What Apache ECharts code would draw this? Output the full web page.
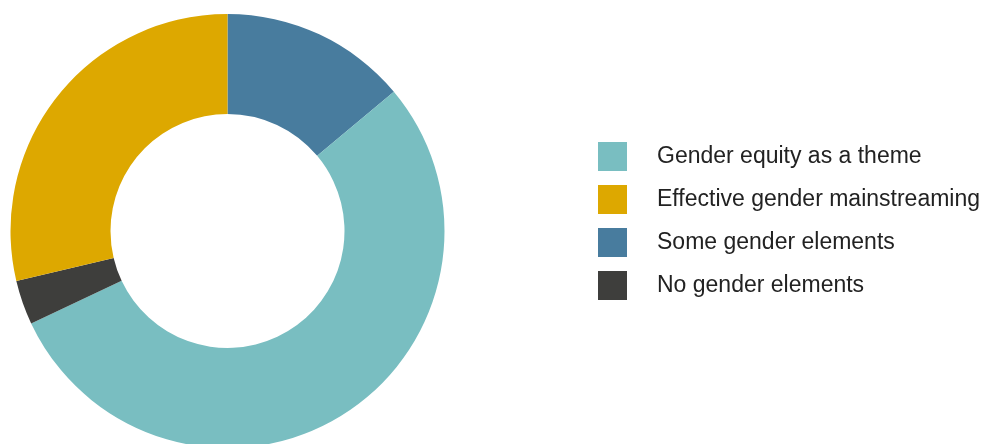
<!DOCTYPE html>
<html>
<head>
<meta charset="utf-8">
<script src="https://cdn.jsdelivr.net/npm/echarts@6/dist/echarts.min.js"></script>
<style>
  html, body { margin: 0; padding: 0; background: #fff; }
  #chart { width: 983px; height: 444px; }
</style>
</head>
<body>
<div id="chart"></div>
<script>
// drawing order: clockwise from 12 o'clock
const categories = ['Some gender elements', 'Gender equity as a theme', 'No gender elements', 'Effective gender mainstreaming']
const shares = [13.9, 54.1, 3.3, 28.7]
const colors = ['#487C9E', '#79BEC1', '#3E3E3C', '#DDA800']
const legendOrder = ['Gender equity as a theme', 'Effective gender mainstreaming', 'Some gender elements', 'No gender elements']

const chart = echarts.init(document.getElementById('chart'), null, { renderer: 'canvas' })

chart.setOption({
  backgroundColor: '#fff',
  animation: false,
  legend: {
    orient: 'vertical',
    left: 598,
    top: 142,
    padding: 0,
    data: legendOrder,
    icon: 'rect',
    itemWidth: 29,
    itemHeight: 29,
    itemGap: 14,
    selectedMode: false,
    textStyle: {
      color: '#222',
      fontSize: 23,
      fontFamily: 'Liberation Sans, Arial, sans-serif',
      padding: [0, 0, 0, 25],
    },
  },
  series: [
    {
      type: 'pie',
      center: [227.5, 231],
      radius: [117, 217],
      startAngle: 90,
      clockwise: true,
      label: { show: false },
      labelLine: { show: false },
      emphasis: { disabled: true },
      itemStyle: { borderWidth: 0 },
      data: categories.map((name, i) => ({
        name,
        value: shares[i],
        itemStyle: { color: colors[i] },
      })),
    },
  ],
})
</script>
</body>
</html>
